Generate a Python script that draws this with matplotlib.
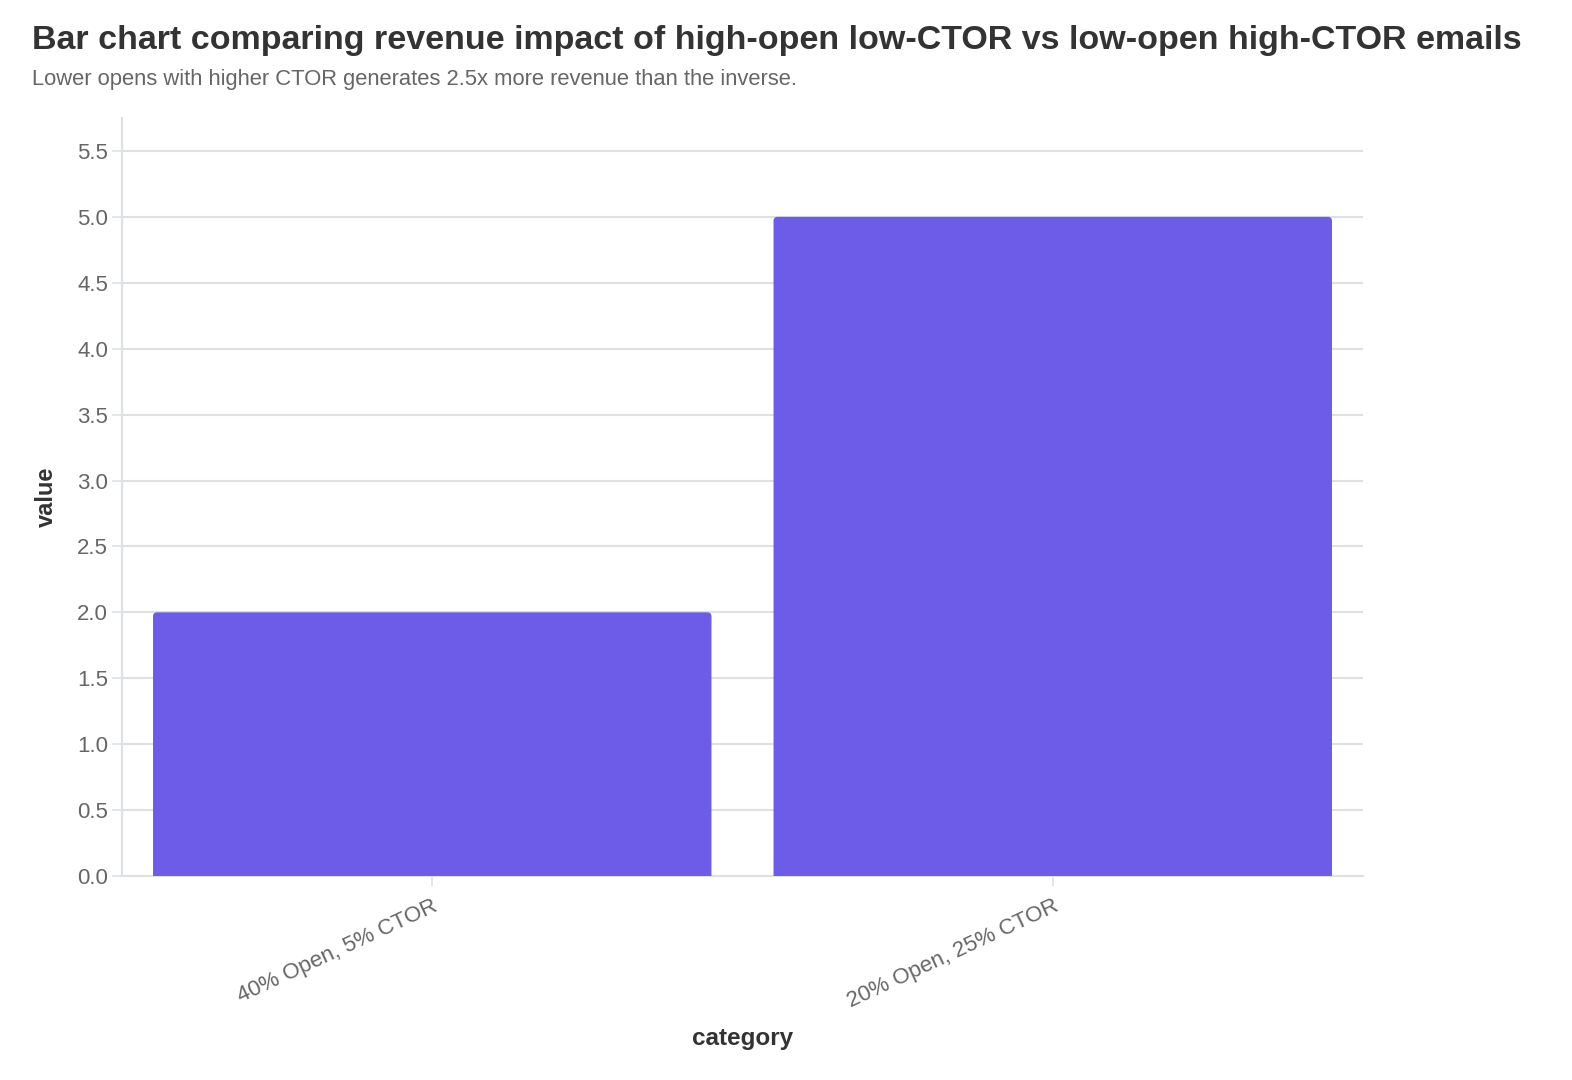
import matplotlib.pyplot as plt
from matplotlib.patches import PathPatch
from matplotlib.path import Path

categories = ['40% Open, 5% CTOR', '20% Open, 25% CTOR']
values = [2.0, 5.0]

plt.rcParams['font.family'] = ['Liberation Sans', 'DejaVu Sans']

W, H = 1572, 1080
fig = plt.figure(figsize=(W / 100, H / 100), dpi=100)
ax = fig.add_axes([122 / W, 1 - 876 / H, (1363 - 122) / W, (876 - 118) / H])

bar_color = '#6c5ce7'
grid_color = '#dde1e4'

bars = ax.bar(range(len(categories)), values, width=0.9, color='none')
ax.set_xlim(-0.5, len(categories) - 0.5)
ax.set_ylim(0, 5.75)

# rounded top corners, square bottom
rx = 4 * 2 / 1241
ry = 4 * 5.75 / 758
for b in bars:
    x0, w, h = b.get_x(), b.get_width(), b.get_height()
    x1 = x0 + w
    verts = [(x0, 0), (x0, h - ry), (x0, h), (x0 + rx, h), (x1 - rx, h), (x1, h),
             (x1, h - ry), (x1, 0), (x0, 0)]
    codes = [Path.MOVETO, Path.LINETO, Path.CURVE3, Path.CURVE3, Path.LINETO,
             Path.CURVE3, Path.CURVE3, Path.LINETO, Path.CLOSEPOLY]
    ax.add_patch(PathPatch(Path(verts, codes), fc=bar_color, ec='none', zorder=3))

ax.set_yticks([i * 0.5 for i in range(12)])
ax.set_yticklabels([f'{i * 0.5:.1f}' for i in range(12)])
ax.set_xticks(range(len(categories)))
ax.set_xticklabels(categories, rotation=25, ha='right', rotation_mode='anchor')

ax.grid(axis='y', color=grid_color, linewidth=1.5, zorder=0)
ax.set_axisbelow(True)
for s in ['top', 'right']:
    ax.spines[s].set_visible(False)
for s in ['left', 'bottom']:
    ax.spines[s].set_color(grid_color)
    ax.spines[s].set_linewidth(1.5)
ax.tick_params(axis='both', colors=grid_color, labelcolor='#666666', labelsize=16,
               length=7, width=1.2)
ax.tick_params(axis='y', pad=3)
ax.tick_params(axis='x', pad=7)

ax.set_ylabel('value', fontsize=17, fontweight='bold', color='#333333', labelpad=14)
ax.set_xlabel('category', fontsize=17.5, fontweight='bold', color='#333333', labelpad=11)

fig.text(32 / W, 1 - 40 / H, 'Bar chart comparing revenue impact of high-open low-CTOR vs low-open high-CTOR emails',
         fontsize=24.5, fontweight='bold', color='#333333', va='center', ha='left')
fig.text(32 / W, 1 - 80 / H, 'Lower opens with higher CTOR generates 2.5x more revenue than the inverse.',
         fontsize=15.8, color='#666666', va='center', ha='left')

fig.savefig('out.png', dpi=100, facecolor='white')
